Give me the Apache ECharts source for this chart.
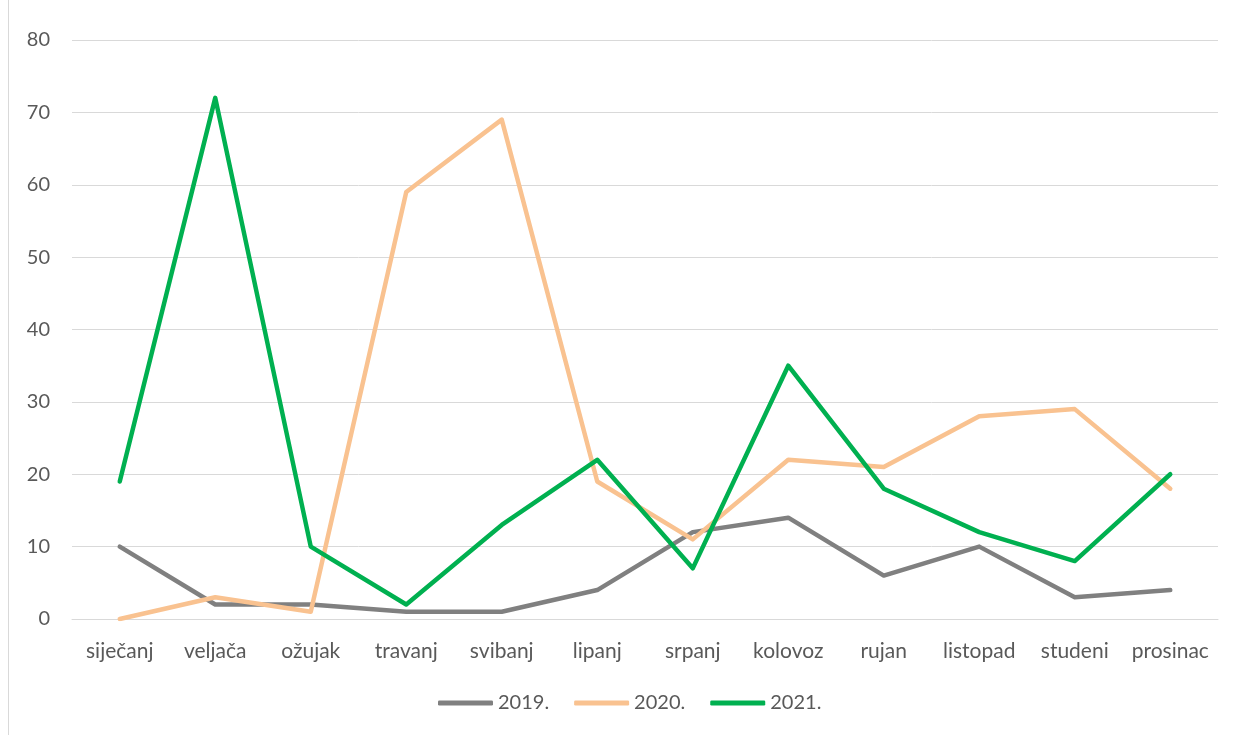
<!DOCTYPE html>
<html><head><meta charset="utf-8">
<script src="https://cdn.jsdelivr.net/npm/echarts@6/dist/echarts.min.js"></script>
<style>html,body{margin:0;padding:0;background:#fff}#c{position:absolute;left:0;top:0;width:1235px;height:735px}
#b{position:absolute;left:8px;top:-2px;width:1240px;height:740px;border:1px solid #d9d9d9;pointer-events:none}</style>
</head><body><div id="c"></div><div id="b"></div>
<script>
const categories = ['siječanj','veljača','ožujak','travanj','svibanj','lipanj','srpanj','kolovoz','rujan','listopad','studeni','prosinac'];
const s2019 = [10, 2, 2, 1, 1, 4, 12, 14, 6, 10, 3, 4];
const s2020 = [0, 3, 1, 59, 69, 19, 11, 22, 21, 28, 29, 18];
const s2021 = [19, 72, 10, 2, 13, 22, 7, 35, 18, 12, 8, 20];
const names = ['2019.','2020.','2021.'];
const colors = ['#808080','#F9C290','#00B050'];
const font = 'Lato, "Open Sans", sans-serif';
const chart = echarts.init(document.getElementById('c'));
const mk = (n,d,c)=>({name:n,type:'line',data:d,symbol:'none',smooth:false,
  lineStyle:{color:c,width:4.5,cap:'round',join:'round'},itemStyle:{color:c}});
chart.setOption({
  animation:false,
  textStyle:{fontFamily:font},
  grid:{left:72,right:17,top:40,bottom:116,containLabel:false},
  legend:{top:688,left:433,itemWidth:55,itemHeight:5,itemGap:25,icon:'roundRect',
    textStyle:{fontSize:20,color:'#595959',fontFamily:font},data:names},
  xAxis:{type:'category',data:categories,boundaryGap:true,
    axisLine:{show:true,lineStyle:{color:'#d9d9d9',width:1}},axisTick:{show:false},
    axisLabel:{fontSize:21,color:'#595959',margin:22,interval:0}},
  yAxis:{type:'value',min:0,max:80,interval:10,
    axisLine:{show:false},axisTick:{show:false},
    splitLine:{lineStyle:{color:'#d9d9d9',width:1}},
    axisLabel:{fontSize:20,color:'#595959',margin:22}},
  series:[mk(names[0],s2019,colors[0]),mk(names[1],s2020,colors[1]),mk(names[2],s2021,colors[2])]
});
</script></body></html>
